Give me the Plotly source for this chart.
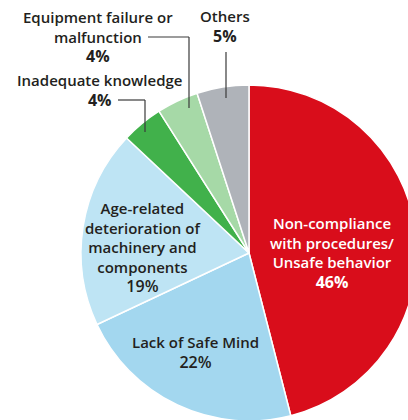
import plotly.graph_objects as go

categories = ["Non-compliance with procedures/ Unsafe behavior", "Lack of Safe Mind",
              "Age-related deterioration of machinery and components",
              "Inadequate knowledge", "Equipment failure or malfunction", "Others"]
values = [46, 22, 19, 4, 4, 5]
colors = ["#D90D1B", "#A3D7EF", "#BEE4F4", "#41B14B", "#A6D9A7", "#AFB3B9"]

W, H = 420, 425
# pie center (249,253) radius 168 in px
cx, cy, r = 249, 253, 168

def px(x):
    return x / W

def py(y):
    return 1 - y / H

FONT = "Open Sans"
DARK = "#231F20"
P = "<span style='font-size:16px'><b>%s</b></span>"

ann = [
    (332, 253, "Non-compliance<br>with procedures/<br>Unsafe behavior<br>" + P % "46%", "white"),
    (195, 352, "Lack of Safe Mind<br><span style='font-size:16px'>22%</span>", DARK),
    (143, 247, "Age-related<br>deterioration of<br>machinery and<br>components<br><span style='font-size:16px'>19%</span>", DARK),
    (98, 37, "Equipment failure or<br>malfunction<br>" + P % "4%", DARK),
    (99, 90, "Inadequate knowledge<br>" + P % "4%", DARK),
    (225, 27, "Others<br>" + P % "5%", DARK),
]

fig = go.Figure(go.Pie(
    labels=categories, values=values, sort=False, direction="clockwise", rotation=0,
    marker=dict(colors=colors, line=dict(color="white", width=1.5)),
    textinfo="none", hoverinfo="label+percent", showlegend=False,
    domain=dict(x=[px(cx - r), px(cx + r)], y=[py(cy + r), py(cy - r)]),
))

annotations = []
for x, y, t, c in ann:
    annotations.append(dict(x=px(x), y=py(y), xref="paper", yref="paper", text=t,
                            showarrow=False, font=dict(family=FONT, size=15, color=c, weight=600),
                            align="center", xanchor="center", yanchor="middle"))
fig.update_layout(annotations=annotations)

lines = [
    [(148, 37), (189, 37), (189, 108)],
    [(118, 100), (145, 100), (145, 132)],
    [(226, 52), (226, 98)],
]
for pts in lines:
    for (x0, y0), (x1, y1) in zip(pts[:-1], pts[1:]):
        fig.add_shape(type="line", xref="paper", yref="paper",
                      x0=px(x0), y0=py(y0), x1=px(x1), y1=py(y1),
                      line=dict(color="#3A3A3A", width=1.2))

fig.update_layout(width=W, height=H, margin=dict(l=0, r=0, t=0, b=0),
                  paper_bgcolor="white", plot_bgcolor="white")
fig.write_html("out.html", config={"displayModeBar": False},
               post_script="document.body.style.margin='0';document.body.style.overflow='hidden';document.documentElement.style.overflow='hidden';")
